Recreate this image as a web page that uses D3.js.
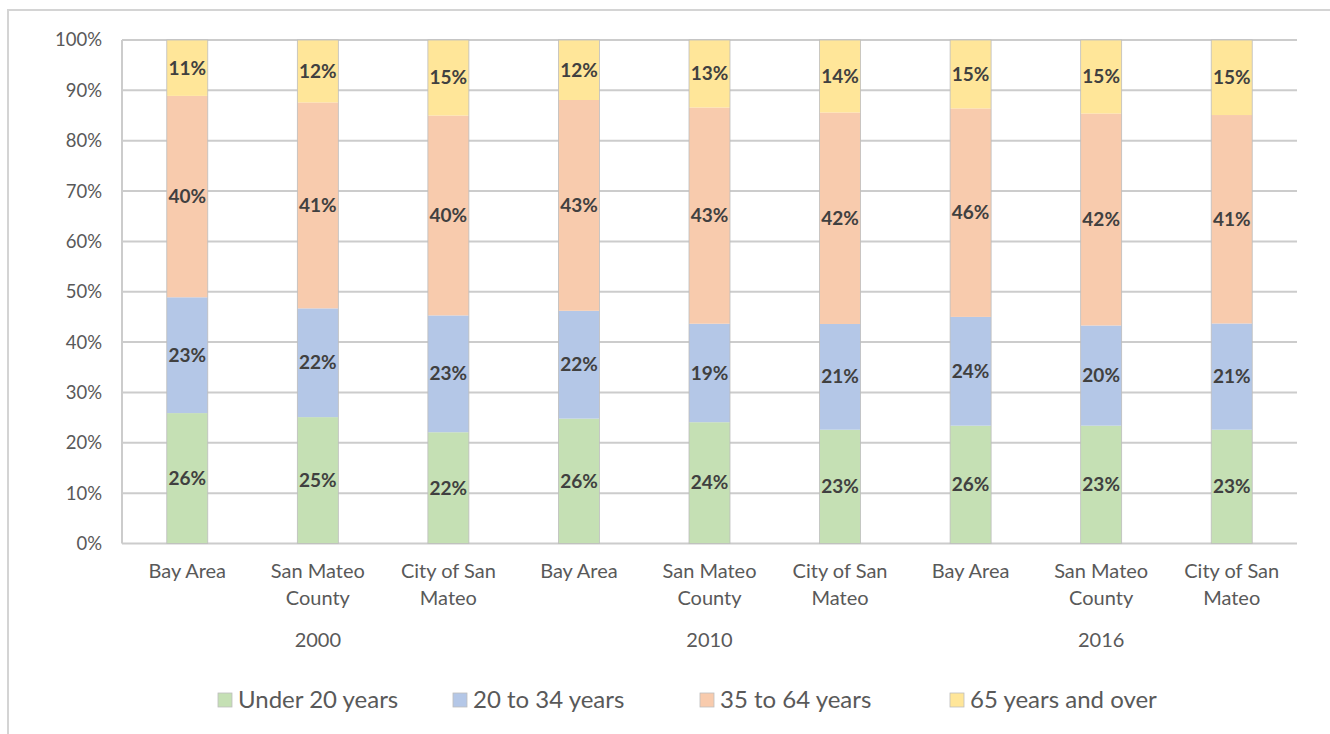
<!DOCTYPE html>
<html>
<head>
<meta charset="utf-8">
<script src="https://cdn.jsdelivr.net/npm/d3@7"></script>
<style>
  body { margin: 0; background: #fff; overflow: hidden; }
  svg { display: block; font-family: Lato, "Open Sans", sans-serif; }
</style>
</head>
<body>
<script>
// categorias y series
let anios = ["2000", "2010", "2016"];
let lugares = [["Bay Area"], ["San Mateo", "County"], ["City of San", "Mateo"]];
let series = ["Under 20 years", "20 to 34 years", "35 to 64 years", "65 years and over"];
let colores = ["#c5e0b4", "#b4c7e7", "#f8cbad", "#ffe699"];

// valores por barra (se normalizan a 100%)
let menores20 = [25.9, 25.1, 22.1, 25.6, 23.9, 22.6, 26.0, 23.4, 22.6];
let de20a34 = [23.0, 21.6, 23.2, 22.1, 19.4, 21.0, 24.0, 19.9, 21.1];
let de35a64 = [40.0, 40.9, 39.7, 43.2, 42.6, 42.0, 46.0, 42.1, 41.4];
let mayores65 = [11.1, 12.4, 15.0, 12.3, 13.3, 14.4, 15.1, 14.6, 14.9];

let ticksY = [0, 0.1, 0.2, 0.3, 0.4, 0.5, 0.6, 0.7, 0.8, 0.9, 1];

function graficar() {
  let w = 1330;
  let h = 734;
  let m = { left: 122, right: 1297, top: 40, bottom: 543.5 };

  let filas = [];
  anios.forEach(function (a, i) {
    lugares.forEach(function (l, j) {
      let k = i * 3 + j;
      filas.push({
        id: k, anio: a, lugar: l,
        s0: menores20[k], s1: de20a34[k], s2: de35a64[k], s3: mayores65[k],
      });
    });
  });

  let claves = ["s0", "s1", "s2", "s3"];
  let apilado = d3.stack().keys(claves).offset(d3.stackOffsetExpand)(filas);

  let svg = d3.select("body").append("svg").attr("width", w).attr("height", h);

  // marco exterior
  svg.append("rect")
    .attr("x", 8).attr("y", 10)
    .attr("width", w + 20).attr("height", h + 20)
    .attr("fill", "none").attr("stroke", "#d4d4d4").attr("stroke-width", 2);

  let x = d3.scaleBand()
    .domain(filas.map(function (d) { return d.id; }))
    .range([m.left, m.right])
    .paddingInner(0.686)
    .paddingOuter(0.343);

  let y = d3.scaleLinear().domain([0, 1]).range([m.bottom, m.top]);

  // lineas de la grilla
  svg.append("g")
    .selectAll("line")
    .data(ticksY)
    .enter()
    .append("line")
    .attr("x1", m.left).attr("x2", m.right)
    .attr("y1", function (d) { return y(d); })
    .attr("y2", function (d) { return y(d); })
    .attr("stroke", "#cccccc").attr("stroke-width", 2);

  svg.append("line")
    .attr("x1", m.left).attr("x2", m.left)
    .attr("y1", m.top).attr("y2", m.bottom)
    .attr("stroke", "#cccccc").attr("stroke-width", 2);

  // eje y
  svg.append("g")
    .selectAll("text")
    .data(ticksY)
    .enter()
    .append("text")
    .text(d3.format(".0%"))
    .attr("x", 102)
    .attr("y", function (d) { return y(d); })
    .attr("dy", "0.35em")
    .attr("text-anchor", "end")
    .attr("font-size", 18.5)
    .attr("fill", "#595959");

  // barras
  let capas = svg.append("g")
    .selectAll("g")
    .data(apilado)
    .enter()
    .append("g")
    .attr("fill", function (d, i) { return colores[i]; });

  capas.selectAll("rect")
    .data(function (d) { return d; })
    .enter()
    .append("rect")
    .attr("x", function (d) { return x(d.data.id); })
    .attr("y", function (d) { return y(d[1]); })
    .attr("width", x.bandwidth())
    .attr("height", function (d) { return y(d[0]) - y(d[1]); });

  // bordes laterales de cada barra
  svg.append("g")
    .selectAll("rect")
    .data(filas)
    .enter()
    .append("rect")
    .attr("x", function (d) { return x(d.id); })
    .attr("y", y(1))
    .attr("width", x.bandwidth())
    .attr("height", y(0) - y(1))
    .attr("fill", "none")
    .attr("stroke", "#bdbdbd")
    .attr("stroke-width", 0.8);

  // etiquetas de datos
  apilado.forEach(function (capa, i) {
    svg.append("g")
      .selectAll("text")
      .data(capa)
      .enter()
      .append("text")
      .text(function (d) { return Math.round(d.data[claves[i]]) + "%"; })
      .attr("x", function (d) { return x(d.data.id) + x.bandwidth() / 2; })
      .attr("y", function (d) { return (y(d[0]) + y(d[1])) / 2; })
      .attr("dy", "0.35em")
      .attr("text-anchor", "middle")
      .attr("font-size", 19)
      .attr("font-weight", "bold")
      .attr("fill", "#404040");
  });

  // etiquetas del eje x
  let etiquetas = svg.append("g")
    .selectAll("text")
    .data(filas)
    .enter()
    .append("text")
    .attr("y", 571)
    .attr("text-anchor", "middle")
    .attr("font-size", 20)
    .attr("fill", "#595959");

  etiquetas.selectAll("tspan")
    .data(function (d) { return d.lugar; })
    .enter()
    .append("tspan")
    .attr("x", function () { let p = d3.select(this.parentNode).datum(); return x(p.id) + x.bandwidth() / 2; })
    .attr("dy", function (d, i) { return i == 0 ? "0.35em" : 27; })
    .text(function (d) { return d; });

  svg.append("g")
    .selectAll("text")
    .data(anios)
    .enter()
    .append("text")
    .text(function (d) { return d; })
    .attr("x", function (d, i) { return x(i * 3 + 1) + x.bandwidth() / 2; })
    .attr("y", 640)
    .attr("dy", "0.35em")
    .attr("text-anchor", "middle")
    .attr("font-size", 20)
    .attr("fill", "#595959");

  // leyenda
  let posLeyenda = [218, 453, 700, 950];
  let leyenda = svg.append("g")
    .selectAll("g")
    .data(series)
    .enter()
    .append("g")
    .attr("transform", function (d, i) { return "translate(" + posLeyenda[i] + ",700)"; });

  leyenda.append("rect")
    .attr("x", 0).attr("y", -7)
    .attr("width", 14).attr("height", 14)
    .attr("fill", function (d, i) { return colores[i]; })
    .attr("stroke", "#bdbdbd").attr("stroke-width", 0.8);

  leyenda.append("text")
    .text(function (d) { return d; })
    .attr("x", 20)
    .attr("y", 0)
    .attr("dy", "0.35em")
    .attr("font-size", 24)
    .attr("fill", "#595959");
}

graficar();
</script>
</body>
</html>
